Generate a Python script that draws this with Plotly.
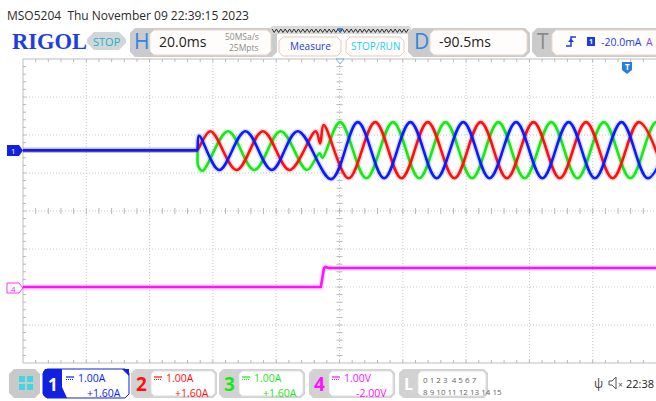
import plotly.graph_objects as go

# ---------------- waveform data ----------------
# turning points of each phase current: time (ms, relative to trigger) and current (A)
t_ch1 = [-190.5, -136.0, -135.5, -134.9, -128.5, -120.2, -111.9, -103.7,
         -93.1, -84.7, -76.4, -68.1, -59.8, -51.4, -43.1, -34.7, -26.4,
         -18.1, -9.8, -1.4, 6.9, 15.3]
i_ch1 = [0, 0, 0, 0.38, -0.52, 0.5, -0.52, 0.5,
         -0.76, 0.74, -0.74, 0.74, -0.74, 0.74, -0.74, 0.74, -0.74,
         0.74, -0.74, 0.74, -0.74, 0.74]

t_ch2 = [-190.5, -136.0, -135.5, -131.3, -123.0, -114.7, -106.3, -98.0,
         -96.6, -95.5, -87.6, -79.2, -70.9, -62.6, -54.2, -45.9, -37.6,
         -29.2, -20.9, -12.6, -4.2, 4.1, 12.5]
i_ch2 = [0, 0, 0, 0.5, -0.52, 0.5, -0.52, 0.5,
         0.18, 0.66, -0.74, 0.74, -0.74, 0.74, -0.74, 0.74, -0.74,
         0.74, -0.74, 0.74, -0.74, 0.74, -0.74]

t_ch3 = [-190.5, -136.0, -135.5, -135.2, -133.8, -125.7, -117.4, -109.1,
         -100.8, -96.8, -95.9, -90.3, -82.0, -73.6, -65.3, -57.0, -48.6,
         -40.3, -32.0, -23.6, -15.3, -7.0, 1.4, 9.7, 18.0]
i_ch3 = [0, 0, 0, -0.4, -0.54, 0.5, -0.52, 0.5,
         -0.52, -0.08, -0.2, 0.74, -0.74, 0.74, -0.74, 0.74, -0.74,
         0.74, -0.74, 0.74, -0.74, 0.74, -0.74, 0.74, -0.74]

# channel 4 voltage (V)
t_ch4 = [-190.5, -96.4, -95.4, -94.9, -94.0, 9.5]
v_ch4 = [0, 0, 0.5, 0.53, 0.5, 0.5]

# scope settings
H_SCALE = 20.0       # ms/div
H_DELAY = -90.5      # ms
I_SCALE = 1.0        # A/div (CH1-CH3)
I_OFFSET = 1.60      # A
V_SCALE = 1.0        # V/div (CH4)
V_OFFSET = -2.00     # V

CH_COLORS = {1: "#0a1cff", 2: "#ff1010", 3: "#18e818", 4: "#ff10ff"}
CH_HALO = {1: "rgba(10,28,255,0.14)", 2: "rgba(255,16,16,0.14)",
           3: "rgba(24,232,24,0.14)", 4: "rgba(255,16,255,0.14)"}

W, H = 656, 401
PL, PT, PR, PB = 23, 59, 656, 363   # plot area in pixels
PW, PH = PR - PL, PB - PT


def X(px):
    return (px - PL) / PW


def Y(py):
    return (PB - py) / PH


def poly(pts):
    return "M " + " L ".join(f"{X(a):.5f},{Y(b):.5f}" for a, b in pts) + " Z"


def bevel(x0, y0, x1, y1, c=3):
    return poly([(x0 + c, y0), (x1 - c, y0), (x1, y0 + c), (x1, y1 - c),
                 (x1 - c, y1), (x0 + c, y1), (x0, y1 - c), (x0, y0 + c)])


fig = go.Figure()

traces = [(4, t_ch4, v_ch4, "y2", "linear"),
          (3, t_ch3, i_ch3, "y", "spline"),
          (2, t_ch2, i_ch2, "y", "spline"),
          (1, t_ch1, i_ch1, "y", "spline")]
for ch, tx, vy, ax, shp in traces:
    fig.add_trace(go.Scatter(x=tx, y=vy, yaxis=ax, mode="lines", hoverinfo="skip",
                             line=dict(color=CH_HALO[ch], width=5.5, shape=shp, smoothing=1)))
    fig.add_trace(go.Scatter(x=tx, y=vy, yaxis=ax, mode="lines", hoverinfo="skip",
                             line=dict(color=CH_COLORS[ch], width=2.6, shape=shp, smoothing=1)))

shapes = []
GRID = "#c6c6c6"
# graticule: dotted division lines
for k in range(1, 10):
    shapes.append(dict(type="line", xref="paper", yref="paper", x0=k / 10, x1=k / 10, y0=0, y1=1,
                       layer="below", line=dict(color=GRID, width=1, dash="1px,2px")))
for k in range(1, 8):
    shapes.append(dict(type="line", xref="paper", yref="paper", x0=0, x1=1, y0=k / 8, y1=k / 8,
                       layer="below", line=dict(color=GRID, width=1, dash="1px,2px")))
# border
for x0, y0, x1, y1 in [(0, 0, 0, 1), (0, 1, 1, 1), (0, 0, 1, 0)]:
    shapes.append(dict(type="line", xref="paper", yref="paper", x0=x0, y0=y0, x1=x1, y1=y1,
                       layer="below", line=dict(color="#bdbdbd", width=1)))
# minor ticks on border and centre lines
tx_len, ty_len = 3 / PW, 3 / PH
segs = []
for k in range(1, 50):
    x = k / 50
    segs.append(f"M {x:.5f},1 L {x:.5f},{1 - ty_len:.5f}")
    segs.append(f"M {x:.5f},0 L {x:.5f},{ty_len:.5f}")
    segs.append(f"M {x:.5f},{0.5 - ty_len:.5f} L {x:.5f},{0.5 + ty_len:.5f}")
for k in range(1, 40):
    y = k / 40
    segs.append(f"M 0,{y:.5f} L {tx_len:.5f},{y:.5f}")
    segs.append(f"M {0.5 - tx_len:.5f},{y:.5f} L {0.5 + tx_len:.5f},{y:.5f}")
shapes.append(dict(type="path", xref="paper", yref="paper", path=" ".join(segs),
                   layer="below", line=dict(color="#b8b8b8", width=1)))


def add_path(path, fill, line=None, width=1):
    shapes.append(dict(type="path", xref="paper", yref="paper", path=path,
                       fillcolor=fill, line=dict(color=line or fill, width=width if line else 0)))


ann = []


def text(s, x, y, size, color, anchor="left", family="Open Sans"):
    ann.append(dict(text=s, x=X(x), y=Y(y), xref="paper", yref="paper", showarrow=False,
                    xanchor=anchor, yanchor="middle", borderpad=0,
                    font=dict(size=size, color=color, family=family)))


# ---------- header ----------
text("MSO5204&nbsp; Thu November 09 22:39:15 2023", 6, 15, 12, "#2b2b2b")
text("<b>RIGOL</b>", 11, 41, 22.5, "#1f3ee0", family="Liberation Serif")
add_path(bevel(87, 32, 126, 50, 7), "#cfd7da")
text("STOP", 106.5, 41, 11, "#27aec4", "center")

# horizontal tab
add_path(bevel(130, 28, 277, 57, 5), "#cbcbcb")
add_path(bevel(150, 30, 271, 55, 4), "#fffdfb", "#ecd8ca")
text("H", 141, 41, 21, "#2e86e6", "center")
text("20.0ms", 158, 42, 14, "#222222")
text("50MSa/s", 260, 36, 8.5, "#8c8c8c", "right")
text("25Mpts", 260, 47.5, 8.5, "#8c8c8c", "right")

# memory strip and buttons
add_path(bevel(270, 26, 411, 34, 2), "#d9d9d9")
zig = [(272 + 2.2 * k, 29 if k % 2 == 0 else 32.5) for k in range(63)]
shapes.append(dict(type="path", xref="paper", yref="paper",
                   path="M " + " L ".join(f"{X(a):.5f},{Y(b):.5f}" for a, b in zig),
                   line=dict(color="#2c2c2c", width=1)))
add_path(poly([(337, 28), (343, 28), (340, 32)]), "#2e86e6")
add_path(bevel(279, 37, 341, 56, 4), "#fffdfb", "#e6c9b8")
text("Measure", 310, 46.5, 10, "#1a3ae6", "center")
add_path(bevel(346, 37, 404, 56, 4), "#fffdfb", "#e6c9b8")
text("STOP/RUN", 375, 46.5, 10, "#22d3ee", "center")

# delay tab
add_path(bevel(408, 28, 530, 57, 5), "#cbcbcb")
add_path(bevel(430, 30, 527, 55, 4), "#fffdfb", "#ecd8ca")
text("D", 421, 41, 21, "#2e86e6", "center")
text("-90.5ms", 438, 42, 14, "#222222")

# trigger tab
add_path(bevel(532, 28, 664, 57, 5), "#cbcbcb")
add_path(bevel(552, 30, 662, 55, 4), "#fffdfb", "#ecd8ca")
text("T", 543, 41, 21, "#8a8a8a", "center")
shapes.append(dict(type="path", xref="paper", yref="paper",
                   path=f"M {X(566):.5f},{Y(46):.5f} L {X(571):.5f},{Y(46):.5f} L {X(571):.5f},{Y(37):.5f} L {X(576):.5f},{Y(37):.5f}",
                   line=dict(color="#1a3ae6", width=1.5)))
add_path(poly([(568, 42), (574, 42), (571, 38.5)]), "#1a3ae6")
add_path(poly([(587, 37), (595, 37), (595, 46), (587, 46)]), "#1a3ae6")
text("<b>1</b>", 591, 41.5, 7, "#ffffff", "center")
text("-20.0mA", 600, 42, 10.5, "#1a3ae6")
text("A", 645, 42, 10.5, "#9046e8")

# ---------- markers on the graticule ----------
add_path(poly([(7, 145), (19, 145), (23, 150.5), (19, 156), (7, 156)]), "#1022e0")
text("1", 13, 150.5, 8, "#ffffff", "center")
add_path(poly([(7, 283), (19, 283), (23, 288), (19, 293), (7, 293)]), "#ffffff", "#ff33ff")
text("4", 13, 288, 8, "#ff10ff", "center")
add_path(poly([(336, 59), (344, 59), (340, 64)]), "#ffffff", "#7aaee0")
add_path(poly([(622, 62), (632, 62), (632, 70), (627, 74), (622, 70)]), "#2a7de0")
text("<b>T</b>", 627, 67, 8, "#ffffff", "center")

# ---------- footer ----------
add_path(bevel(9, 369, 40, 398, 5), "#c9c9c9")
for sx, sy in [(19, 376), (27, 376), (19, 384), (27, 384)]:
    add_path(poly([(sx, sy), (sx + 6, sy), (sx + 6, sy + 6), (sx, sy + 6)]), "#3fd6e6")

chan_boxes = [
    (1, 43, "1.00A", "+1.60A"),
    (2, 131, "1.00A", "+1.60A"),
    (3, 219, "1.00A", "+1.60A"),
    (4, 309, "1.00V", "-2.00V"),
]
for ch, x0, scale_txt, off_txt in chan_boxes:
    col = CH_COLORS[ch]
    x1 = x0 + 86
    if ch == 1:
        add_path(bevel(x0, 369, x1, 398, 4), "#ffffff", "#1022e0")
        add_path(poly([(x0 + 2, 369), (x0 + 19, 369), (x0 + 19, 387), (x0 + 24, 398),
                       (x0 + 3, 398), (x0, 395), (x0, 372)]), "#1022e0")
        add_path(poly([(x1 - 7, 369), (x1, 369), (x1, 376)]), "#1022e0")
        text("<b>1</b>", x0 + 10, 384, 17, "#ffffff", "center")
    else:
        add_path(bevel(x0, 369, x1, 398, 4), "#d2d2d2")
        add_path(bevel(x0 + 20, 371, x1 - 2, 396, 3), "#ffffff", "#dedede")
        text(f"<b>{ch}</b>", x0 + 10, 384, 19, col, "center")
    # coupling symbol
    shapes.append(dict(type="line", xref="paper", yref="paper", x0=X(x0 + 23), x1=X(x0 + 31),
                       y0=Y(377), y1=Y(377), line=dict(color=col, width=1.2)))
    shapes.append(dict(type="line", xref="paper", yref="paper", x0=X(x0 + 23), x1=X(x0 + 31),
                       y0=Y(379.5), y1=Y(379.5), line=dict(color=col, width=1.2, dash="1px,1px")))
    text(scale_txt, x0 + 34, 378.5, 10.5, col)
    text(off_txt, x0 + 79, 392.5, 10.5, col, "right")

# logic analyser box
add_path(bevel(399, 369, 488, 398, 4), "#d2d2d2")
add_path(bevel(418, 371, 486, 396, 3), "#ffffff", "#dedede")
text("<b>L</b>", 408, 384, 16, "#ffffff", "center")
text("0 1 2 3&nbsp; 4 5 6 7", 422, 379, 8, "#666666")
text("8 9 10 11 12 13 14 15", 422, 391, 8, "#666666")

# status area
text("ψ", 598, 383, 12, "#444444", "center")
add_path(poly([(609, 381), (612, 381), (616, 377), (616, 389), (612, 385), (609, 385)]), "#ffffff", "#555555")
text("×", 620.5, 384, 8.5, "#555555", "center")
text("22:38", 655, 383, 11, "#222222", "right")

fig.update_layout(
    width=W, height=H, autosize=False,
    margin=dict(l=PL, r=W - PR, t=PT, b=H - PB, pad=0),
    paper_bgcolor="#ffffff", plot_bgcolor="#ffffff",
    showlegend=False,
    xaxis=dict(range=[H_DELAY - 5 * H_SCALE, H_DELAY + 5 * H_SCALE], visible=False, fixedrange=True),
    yaxis=dict(range=[-4 * I_SCALE - I_OFFSET, 4 * I_SCALE - I_OFFSET], visible=False, fixedrange=True),
    yaxis2=dict(range=[-4 * V_SCALE - V_OFFSET, 4 * V_SCALE - V_OFFSET], overlaying="y",
                visible=False, fixedrange=True),
    shapes=shapes,
    annotations=ann,
)

fig.write_html("out.html")
